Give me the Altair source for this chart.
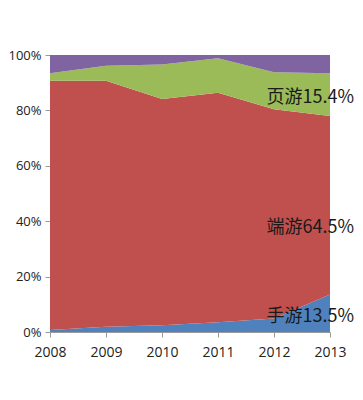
import altair as alt
import pandas as pd

years = [2008, 2009, 2010, 2011, 2012, 2013]
series = ["手游", "端游", "页游", "其他"]
mobile = [0.7, 1.9, 2.4, 3.5, 4.9, 13.5]
client = [90.0, 88.8, 81.7, 82.9, 75.5, 64.5]
web = [2.7, 5.4, 12.5, 12.4, 13.4, 15.4]
other = [6.6, 3.9, 3.4, 1.2, 6.2, 6.6]
colors = ["#4F81BD", "#C0504D", "#9BBB59", "#8064A2"]

label_texts = ["页游15.4%", "端游64.5%", "手游13.5%"]
label_y = [0.845, 0.375, 0.054]

rows = []
for k, (name, vals) in enumerate(zip(series, [mobile, client, web, other])):
    for yr, v in zip(years, vals):
        rows.append({"year": yr, "series": name, "k": k, "value": v})
df = pd.DataFrame(rows)

lab = pd.DataFrame({"year": [years[-1]] * 3, "text": label_texts, "y": label_y})

x = alt.X("year:Q", scale=alt.Scale(domain=[2008, 2013], nice=False),
          axis=alt.Axis(values=years, format="d", title=None, grid=False,
                        domain=True, domainColor="#9a9a9a", tickColor="#9a9a9a",
                        tickSize=5, labelFontSize=14, labelPadding=8,
                        labelFlush=False, labelOverlap=False, labelBound=False,
                        labelColor="#222", labelFont="Open Sans"))

area = alt.Chart(df).mark_area(interpolate="linear").encode(
    x=x,
    y=alt.Y("value:Q", stack="normalize",
            scale=alt.Scale(domain=[0, 1], nice=False),
            axis=alt.Axis(format=".0%", values=[0, 0.2, 0.4, 0.6, 0.8, 1.0],
                          title=None, grid=False, domain=False,
                          labelFlush=False, labelOverlap=False, labelBound=False,
                          tickColor="#9a9a9a", tickSize=5, labelPadding=4,
                          labelFontSize=13, labelColor="#222",
                          labelFont="Open Sans")),
    color=alt.Color("series:N", scale=alt.Scale(domain=series, range=colors),
                    legend=None),
    order=alt.Order("k:Q", sort="ascending"),
)

text = alt.Chart(lab).mark_text(align="right", baseline="middle", dx=24,
                                fontSize=18, color="#1a1a1a",
                                font="Noto Sans CJK SC").encode(
    x=alt.X("year:Q"),
    y=alt.Y("y:Q"),
    text="text:N",
)

chart = alt.layer(area, text).properties(
    width=280, height=277,
    autosize=alt.AutoSizeParams(type="none"),
    padding={"left": 42, "top": 47, "right": 25, "bottom": 40},
    background="white",
).configure_view(stroke=None)

chart.save("out.html", embed_options={"renderer": "svg", "actions": False})
